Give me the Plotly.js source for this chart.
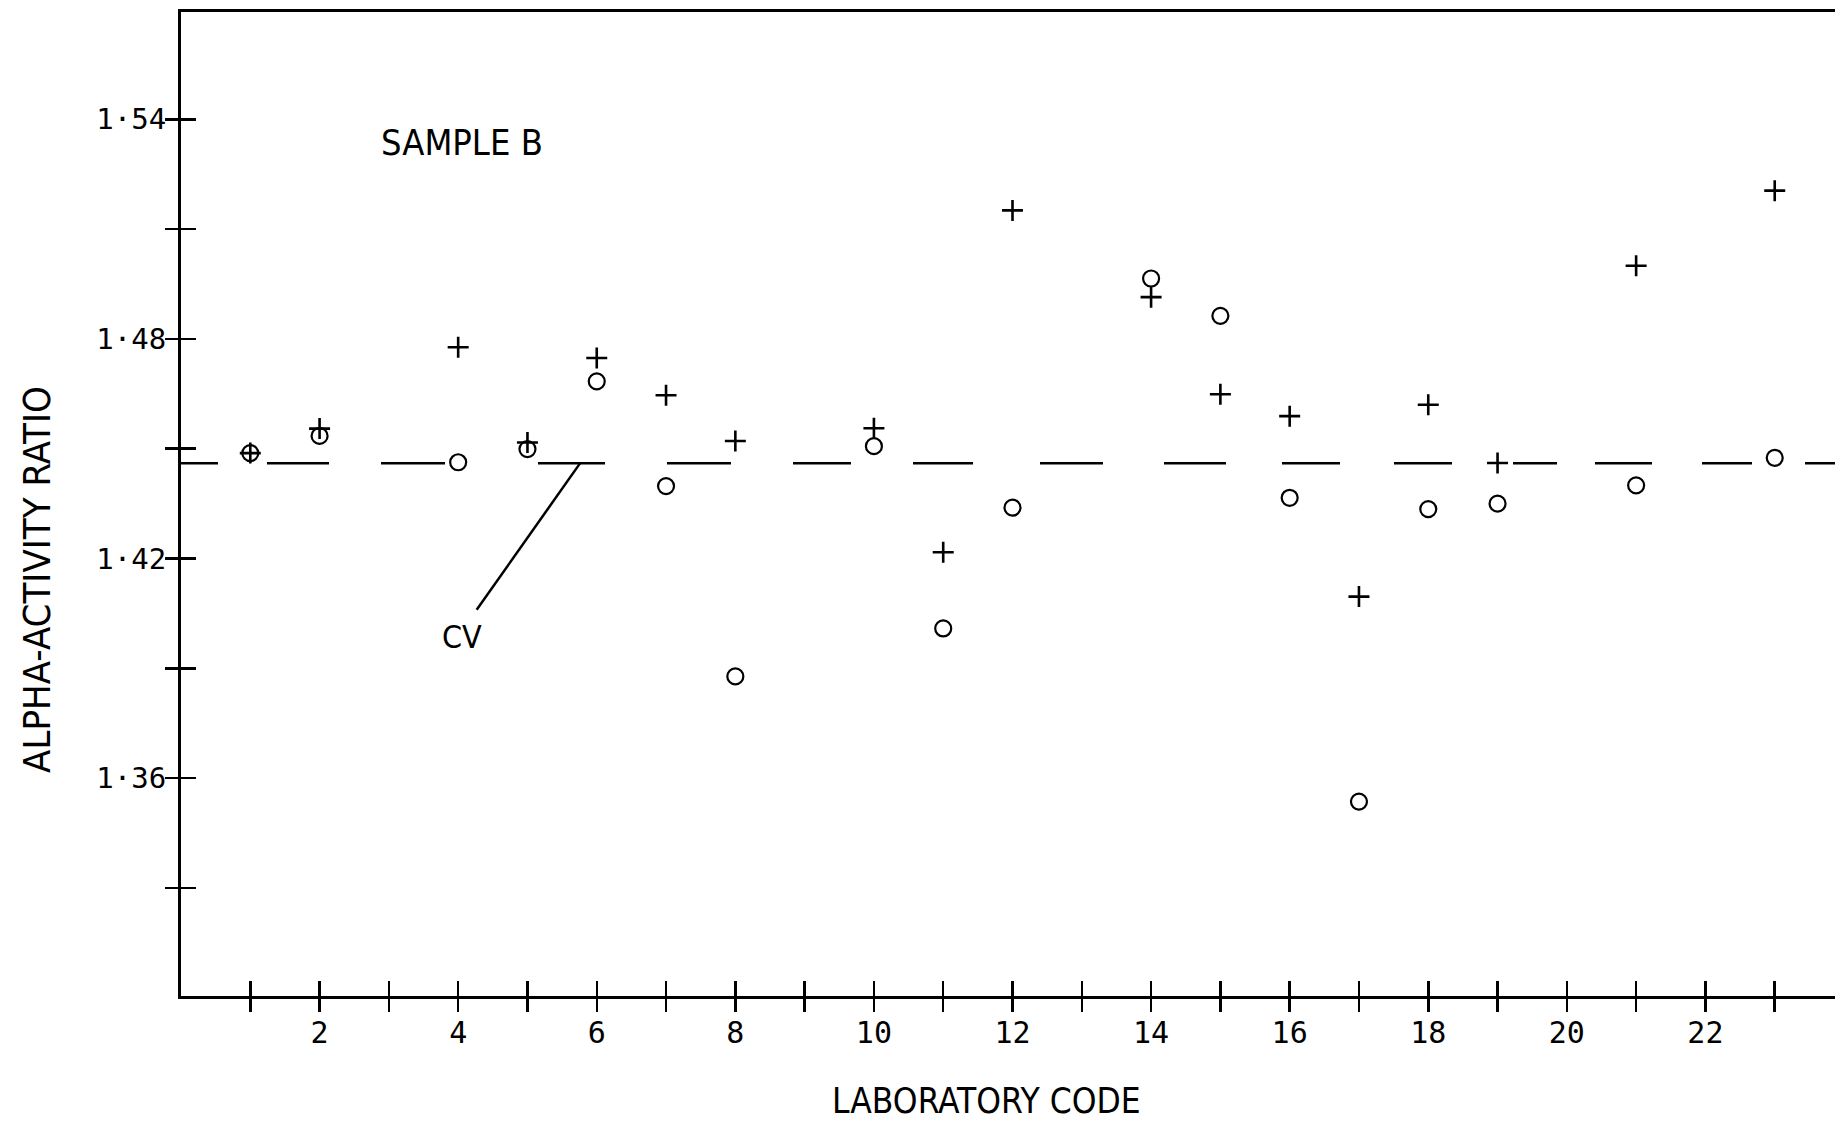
<!DOCTYPE html>
<html>
<head>
<meta charset="utf-8">
<script src="https://cdn.plot.ly/plotly-3.0.1.min.js"></script>
<style>
  html, body { margin: 0; padding: 0; background: #fff; }
  #chart { width: 1835px; height: 1122px; }
</style>
</head>
<body>
<div id="chart"></div>
<script>
// Laboratory codes that reported results for sample B
const labCodes = [1, 2, 4, 5, 6, 7, 8, 10, 11, 12, 14, 15, 16, 17, 18, 19, 21, 23];

// Alpha-activity ratio, first method (open circles)
const ratioCircle = [1.4488, 1.4535, 1.4463, 1.4499, 1.4684, 1.4398, 1.3878, 1.4507, 1.4009,
                     1.4339, 1.4965, 1.4863, 1.4366, 1.3536, 1.4335, 1.4350, 1.4400, 1.4475];

// Alpha-activity ratio, second method (plus signs)
const ratioPlus = [1.4488, 1.4555, 1.4777, 1.4517, 1.4748, 1.4646, 1.4521, 1.4556, 1.4217,
                   1.5151, 1.4914, 1.4649, 1.4589, 1.4096, 1.4620, 1.4461, 1.5000, 1.5205];

// Certified value (CV) reference line
const certifiedValue = [1.446];

// Axis ticks and labels
const xTickVals = [1, 2, 3, 4, 5, 6, 7, 8, 9, 10, 11, 12, 13, 14, 15, 16, 17, 18, 19, 20, 21, 22, 23];
const xTickText = ["", "2", "", "4", "", "6", "", "8", "", "10", "", "12", "", "14", "", "16", "", "18", "", "20", "", "22", ""];
const yTickVals = [1.33, 1.36, 1.39, 1.42, 1.45, 1.48, 1.51, 1.54];
const yTickText = ["", "1·36", "", "1·42", "", "1·48", "", "1·54"];

const xRange = [0, 23.87];
const yRange = [1.3005, 1.5693];

const textFont = "Liberation Sans Narrow, DejaVu Sans Condensed, sans-serif";
const tickFont = "DejaVu Sans Mono, monospace";
const ink = "#000";

const traces = [
  {
    // CV line, drawn with the plotter's uneven dashes
    x: xRange,
    y: [certifiedValue[0], certifiedValue[0]],
    mode: "lines",
    line: {
      color: ink, width: 2.5,
      dash: "37px,49px,62px,52px,64px,93px,67px,62px,64px,62px,58px,62px,60px,67px,63px,61px,62px,56px,58px,54px,58px,61px,44px,38px,57px,50px,50px,53px,40px"
    },
    hoverinfo: "skip",
    showlegend: false
  },
  {
    x: labCodes,
    y: ratioCircle,
    mode: "markers",
    marker: { symbol: "circle-open", size: 16, color: ink, line: { width: 2.2, color: ink } },
    showlegend: false
  },
  {
    x: labCodes,
    y: ratioPlus,
    mode: "markers",
    marker: { symbol: "cross-thin", size: 15, color: ink, line: { width: 2.6, color: ink } },
    showlegend: false
  },
  {
    // empty trace that brings up the overlay axes carrying the outer tick halves
    x: [], y: [],
    xaxis: "x2", yaxis: "y2",
    mode: "markers",
    hoverinfo: "skip",
    showlegend: false
  }
];

const layout = {
  width: 1835,
  height: 1122,
  margin: { l: 181, r: 0, t: 12, b: 126 },
  paper_bgcolor: "#fff",
  plot_bgcolor: "#fff",
  showlegend: false,
  xaxis: {
    range: xRange,
    tickmode: "array",
    tickvals: xTickVals,
    ticktext: xTickText,
    ticks: "inside",
    ticklen: 15,
    tickwidth: 2.5,
    tickcolor: ink,
    showline: true,
    linewidth: 3,
    linecolor: ink,
    mirror: true,
    showgrid: false,
    zeroline: false,
    tickfont: { family: tickFont, size: 30, color: ink },
    ticklabelstandoff: 8
  },
  xaxis2: {
    range: xRange,
    overlaying: "x",
    anchor: "y",
    side: "bottom",
    tickmode: "array",
    tickvals: xTickVals,
    ticks: "outside",
    ticklen: 15,
    tickwidth: 2.5,
    tickcolor: ink,
    showticklabels: false,
    showline: false,
    showgrid: false,
    zeroline: false
  },
  yaxis: {
    range: yRange,
    tickmode: "array",
    tickvals: yTickVals,
    ticktext: yTickText,
    ticks: "inside",
    ticklen: 15,
    tickwidth: 2.5,
    tickcolor: ink,
    showline: true,
    linewidth: 3,
    linecolor: ink,
    showgrid: false,
    zeroline: false,
    tickfont: { family: tickFont, size: 29, color: ink },
    ticklabelstandoff: 6
  },
  yaxis2: {
    range: yRange,
    overlaying: "y",
    anchor: "x",
    side: "left",
    tickmode: "array",
    tickvals: yTickVals,
    ticks: "outside",
    ticklen: 15,
    tickwidth: 2.5,
    tickcolor: ink,
    showticklabels: false,
    showline: false,
    showgrid: false,
    zeroline: false
  },
  shapes: [
    {
      // leader from the CV label to the dashed line
      type: "line", xref: "x", yref: "y",
      x0: 5.758, y0: certifiedValue[0], x1: 4.267, y1: 1.406,
      line: { color: ink, width: 2.5 }
    }
  ],
  annotations: [
    {
      text: "SAMPLE B", xref: "x", yref: "y", x: 2.857, y: 1.5336,
      xanchor: "left", yanchor: "middle", showarrow: false,
      font: { family: textFont, size: 36, color: ink }
    },
    {
      text: "CV", xref: "x", yref: "y", x: 4.055, y: 1.3986,
      xanchor: "center", yanchor: "middle", showarrow: false,
      font: { family: textFont, size: 32, color: ink }
    },
    {
      text: "ALPHA-ACTIVITY RATIO", xref: "paper", yref: "paper", x: -0.0871, y: 0.4238,
      xanchor: "center", yanchor: "middle", textangle: -90, showarrow: false,
      font: { family: textFont, size: 38, color: ink }
    },
    {
      text: "LABORATORY CODE", xref: "paper", yref: "paper", x: 0.4873, y: -0.1067,
      xanchor: "center", yanchor: "middle", showarrow: false,
      font: { family: textFont, size: 35, color: ink }
    }
  ]
};

Plotly.newPlot("chart", traces, layout, { staticPlot: true, displayModeBar: false });
</script>
</body>
</html>
